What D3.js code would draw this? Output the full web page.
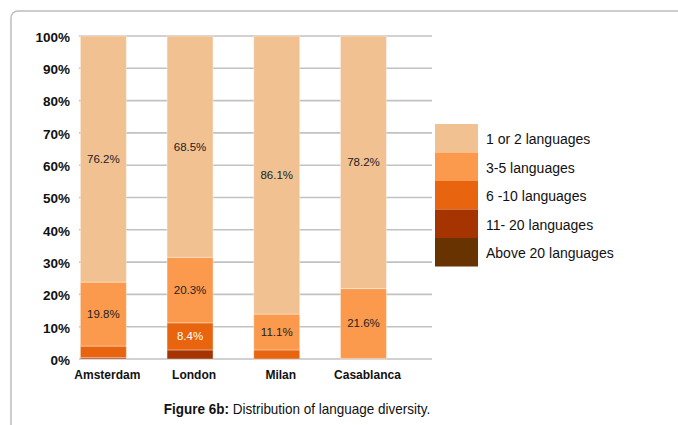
<!DOCTYPE html>
<html>
<head>
<meta charset="utf-8">
<script src="https://cdn.jsdelivr.net/npm/d3@7"></script>
<style>
  html, body { margin: 0; padding: 0; background: #fff; }
  svg { display: block; font-family: "Liberation Sans", Arial, sans-serif; }
</style>
</head>
<body>
<svg id="chart" width="678" height="425"></svg>
<script>
// Cities along the x axis
const cities = ["Amsterdam", "London", "Milan", "Casablanca"];

// Language-count groups, stacked bottom (index 0) to top
const groups = ["Above 20 languages", "11- 20 languages", "6 -10 languages", "3-5 languages", "1 or 2 languages"];

// Share of respondents per group (percent), one value per city
const above20   = [0.0, 0.0, 0.0, 0.0];
const lang11to20 = [0.4, 2.8, 0.0, 0.0];
const lang6to10  = [3.6, 8.4, 2.8, 0.2];
const lang3to5   = [19.8, 20.3, 11.1, 21.6];
const lang1or2   = [76.2, 68.5, 86.1, 78.2];

// Which segments carry a printed value
const labelled = {
  "1 or 2 languages": [true, true, true, true],
  "3-5 languages": [true, true, true, true],
  "6 -10 languages": [false, true, false, false],
  "11- 20 languages": [false, false, false, false],
  "Above 20 languages": [false, false, false, false]
};

const yTicks = [0, 10, 20, 30, 40, 50, 60, 70, 80, 90, 100];

const colors = {
  "1 or 2 languages": "#f1c192",
  "3-5 languages": "#fb9a4c",
  "6 -10 languages": "#e8640e",
  "11- 20 languages": "#a63400",
  "Above 20 languages": "#683300"
};
const labelColor = {
  "1 or 2 languages": "#222",
  "3-5 languages": "#222",
  "6 -10 languages": "#fff"
};

const seriesValues = [above20, lang11to20, lang6to10, lang3to5, lang1or2];
const rows = cities.map((c, i) => {
  const r = { city: c };
  groups.forEach((g, k) => { r[g] = seriesValues[k][i]; });
  return r;
});

const svg = d3.select("#chart");

// Outer frame with rounded top-left corner, running off the right and bottom edges
svg.append("rect")
  .attr("x", 11).attr("y", 11)
  .attr("width", 700).attr("height", 440)
  .attr("rx", 7)
  .attr("fill", "none")
  .attr("stroke", "#bdbdbd")
  .attr("stroke-width", 1.5);

const y = d3.scaleLinear().domain([0, 100]).range([359, 36]);
const x = d3.scaleBand().domain(cities).range([60, 406.8]).paddingInner(0.47).paddingOuter(0.235);

// Horizontal gridlines
svg.append("g").selectAll("line")
  .data(yTicks)
  .join("line")
  .attr("x1", 79).attr("x2", 432)
  .attr("y1", d => y(d)).attr("y2", d => y(d))
  .attr("stroke", "#c2c2c2")
  .attr("stroke-width", 1.6);

// Y axis labels
const yAxis = d3.axisLeft(y).tickValues(yTicks).tickFormat(d => d + "%").tickSize(0).tickPadding(0);
const yg = svg.append("g").attr("transform", "translate(70,1)").call(yAxis);
yg.select(".domain").remove();
yg.selectAll("text")
  .attr("font-family", "Liberation Sans, Arial, sans-serif")
  .attr("font-size", 13.5)
  .attr("font-weight", "bold")
  .attr("fill", "#111");

// Stacked bars
const stack = d3.stack().keys(groups)(rows);
const layer = svg.append("g").selectAll("g")
  .data(stack)
  .join("g")
  .attr("fill", d => colors[d.key]);

layer.selectAll("rect")
  .data(d => d.map(v => Object.assign(v, { key: d.key })))
  .join("rect")
  .attr("x", d => x(d.data.city))
  .attr("width", x.bandwidth())
  .attr("y", d => y(d[1]))
  .attr("height", d => Math.max(0, y(d[0]) - y(d[1])))
  .attr("stroke", "rgba(255,255,255,0.35)")
  .attr("stroke-width", 1);

// Value labels inside segments
svg.append("g").selectAll("text")
  .data(stack.flatMap(s => s.map((v, i) => ({ key: s.key, i, v }))).filter(d => labelled[d.key][d.i]))
  .join("text")
  .attr("x", d => x(d.v.data.city) + x.bandwidth() / 2)
  .attr("y", d => y((d.v[0] + d.v[1]) / 2))
  .attr("dy", "0.35em")
  .attr("text-anchor", "middle")
  .attr("font-size", 11.5)
  .attr("fill", d => labelColor[d.key])
  .text(d => d.v.data[d.key].toFixed(1) + "%");

// Category labels
const xAxis = d3.axisBottom(x).tickSize(0).tickPadding(0);
const xg = svg.append("g").attr("transform", "translate(4,370)").call(xAxis);
xg.select(".domain").remove();
xg.selectAll("text")
  .attr("font-family", "Liberation Sans, Arial, sans-serif")
  .attr("font-size", 12)
  .attr("font-weight", "bold")
  .attr("fill", "#111")
  .attr("dy", "0.71em");

// Legend, top entry first
const legendOrder = groups.slice().reverse();
const lg = svg.append("g").attr("transform", "translate(435,124)");
const rowH = 28.5;
lg.selectAll("rect")
  .data(legendOrder)
  .join("rect")
  .attr("x", 0).attr("y", (d, i) => i * rowH)
  .attr("width", 43).attr("height", rowH)
  .attr("fill", d => colors[d]);
lg.selectAll("text")
  .data(legendOrder)
  .join("text")
  .attr("x", 51)
  .attr("y", (d, i) => i * rowH + rowH / 2 + 1)
  .attr("dy", "0.35em")
  .attr("font-size", 14)
  .attr("fill", "#111")
  .text(d => d);

// Figure caption, slightly condensed
const cap = svg.append("g")
  .attr("transform", "translate(297,414) scale(0.9,1)")
  .append("text")
  .attr("x", 0).attr("y", 0)
  .attr("text-anchor", "middle")
  .attr("font-size", 15)
  .attr("fill", "#111");
cap.append("tspan").attr("font-weight", "bold").text("Figure 6b:");
cap.append("tspan").text(" Distribution of language diversity.");
</script>
</body>
</html>
